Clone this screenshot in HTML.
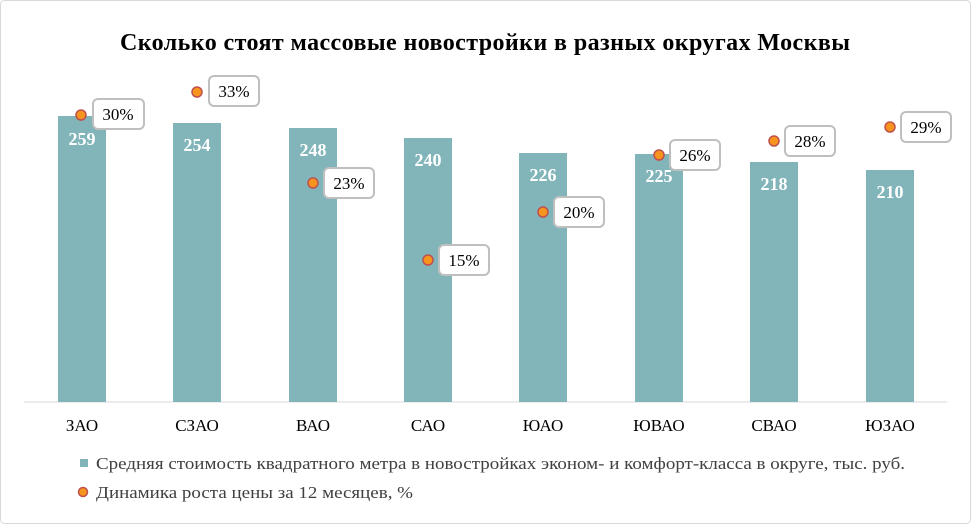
<!DOCTYPE html>
<html><head><meta charset="utf-8"><style>
html,body{margin:0;padding:0;background:#fff}
svg{display:block}
</style></head><body>
<svg width="971" height="524" viewBox="0 0 971 524" xmlns="http://www.w3.org/2000/svg" font-family="'Liberation Serif', 'DejaVu Serif', serif">
<rect x="0.5" y="0.5" width="970" height="523" rx="4" fill="#fff" stroke="#d9d9d9"/>
<text x="485" y="50" text-anchor="middle" font-size="24" font-weight="bold" fill="#000" textLength="730" lengthAdjust="spacing">Сколько стоят массовые новостройки  в разных округах Москвы</text>
<line x1="24" y1="402" x2="947" y2="402" stroke="#d9d9d9"/>
<g fill="#82B5B9">
<rect x="58" y="116" width="48" height="286"/>
<rect x="173" y="123" width="48" height="279"/>
<rect x="289" y="128" width="48" height="274"/>
<rect x="404" y="138" width="48" height="264"/>
<rect x="519" y="153" width="48" height="249"/>
<rect x="635" y="154" width="48" height="248"/>
<rect x="750" y="162" width="48" height="240"/>
<rect x="866" y="170" width="48" height="232"/>
</g>
<g fill="#fff" font-size="18" font-weight="bold" text-anchor="middle">
<text x="82" y="145">259</text><text x="197" y="151">254</text><text x="313" y="156">248</text><text x="428" y="166">240</text>
<text x="543" y="181">226</text><text x="659" y="182">225</text><text x="774" y="190">218</text><text x="890" y="198">210</text>
</g>
<g font-size="17" text-anchor="middle" fill="#000">
<text x="82" y="431">ЗАО</text><text x="197" y="431">СЗАО</text><text x="313" y="431">ВАО</text><text x="428" y="431">САО</text>
<text x="543" y="431">ЮАО</text><text x="659" y="431">ЮВАО</text><text x="774" y="431">СВАО</text><text x="890" y="431">ЮЗАО</text>
</g>
<g stroke="#bfbfbf" stroke-width="2" fill="#fff">
<rect x="93" y="99" width="51" height="30" rx="5"/>
<rect x="209" y="76" width="50" height="30" rx="5"/>
<rect x="324" y="168" width="50" height="30" rx="5"/>
<rect x="439" y="245" width="50" height="30" rx="5"/>
<rect x="554" y="197" width="50" height="30" rx="5"/>
<rect x="670" y="140" width="50" height="30" rx="5"/>
<rect x="785" y="126" width="50" height="30" rx="5"/>
<rect x="901" y="112" width="50" height="30" rx="5"/>
</g>
<g font-size="17" text-anchor="middle" fill="#000">
<text x="118" y="120">30%</text><text x="234" y="97">33%</text><text x="349" y="189">23%</text><text x="464" y="266">15%</text>
<text x="579" y="218">20%</text><text x="695" y="161">26%</text><text x="810" y="147">28%</text><text x="926" y="133">29%</text>
</g>
<g fill="#F7941D" stroke="#C0504D" stroke-width="1.5">
<circle cx="81" cy="115" r="5"/><circle cx="197" cy="92" r="5"/><circle cx="313" cy="183" r="5"/><circle cx="428" cy="260" r="5"/>
<circle cx="543" cy="212" r="5"/><circle cx="659" cy="155" r="5"/><circle cx="774" cy="141" r="5"/><circle cx="890" cy="127" r="5"/>
</g>
<rect x="80" y="459" width="8" height="8" fill="#82B5B9"/>
<text x="96" y="469" font-size="17" fill="#404040" textLength="809" lengthAdjust="spacingAndGlyphs">Средняя стоимость квадратного метра в новостройках эконом- и комфорт-класса в округе, тыс. руб.</text>
<circle cx="83" cy="492" r="4.5" fill="#F7941D" stroke="#C0504D" stroke-width="1.5"/>
<text x="96" y="498" font-size="17" fill="#404040" textLength="317" lengthAdjust="spacingAndGlyphs">Динамика роста цены за 12 месяцев, %</text>
</svg>
</body></html>
